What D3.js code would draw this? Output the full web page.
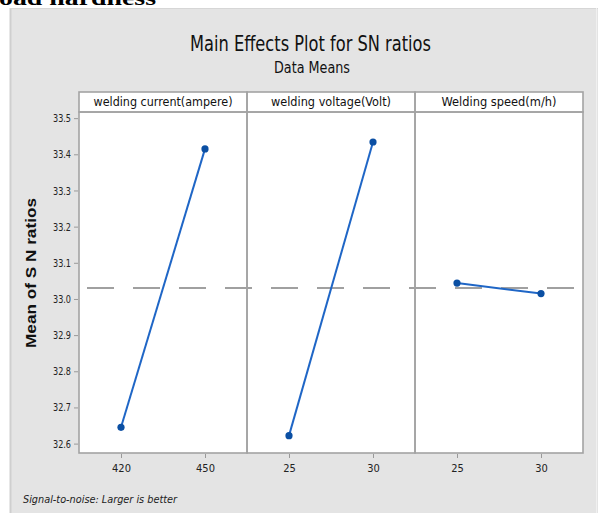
<!DOCTYPE html>
<html><head><meta charset="utf-8">
<script src="https://cdn.jsdelivr.net/npm/d3@7"></script>
<style>
html,body{margin:0;padding:0;background:#fff;}
svg{display:block;}
</style></head>
<body>
<svg id="chart" width="598" height="513"></svg>
<script>
// ---- data ----
const factors = ["welding current(ampere)", "welding voltage(Volt)", "Welding speed(m/h)"];
const levels = [["420", "450"], ["25", "30"], ["25", "30"]];
const means = [[32.645, 33.415], [32.622, 33.434], [33.044, 33.015]];
const yTicks = [32.6, 32.7, 32.8, 32.9, 33.0, 33.1, 33.2, 33.3, 33.4, 33.5];
const overallMean = 33.03;
const titleText = "Main Effects Plot for SN ratios";
const subtitleText = "Data Means";
const yLabel = "Mean of S N ratios";
const footText = "Signal-to-noise: Larger is better";

// ---- layout ----
const W = 598, H = 513;
const plotL = 79, plotR = 583, plotT = 112, plotB = 453, stripT = 92;
const narrow = "'Liberation Sans Narrow','Arial Narrow','DejaVu Sans Condensed',sans-serif";
const frame = "#a3a3a3";

const svg = d3.select("#chart");

// cut-off document text at top
svg.append("text").attr("x", -1).attr("y", 5)
  .attr("font-family", "'Liberation Serif','Times New Roman',serif")
  .attr("font-weight", "bold").attr("font-size", 22)
  .attr("textLength", 157).attr("lengthAdjust", "spacingAndGlyphs")
  .attr("fill", "#000").text("oad hardness");

// gray background panel
svg.append("rect").attr("x", 10).attr("y", 8).attr("width", W - 10).attr("height", H - 8)
  .attr("fill", "#e4e4e4");
svg.append("line").attr("x1", 10.5).attr("x2", 10.5).attr("y1", 8).attr("y2", H)
  .attr("stroke", "#cfcfcf").attr("stroke-width", 2);
svg.append("line").attr("x1", 10).attr("x2", W).attr("y1", 8.5).attr("y2", 8.5)
  .attr("stroke", "#d6d6d6").attr("stroke-width", 1);
svg.append("line").attr("x1", 596.5).attr("x2", 596.5).attr("y1", 8).attr("y2", H)
  .attr("stroke", "#f0f0f0").attr("stroke-width", 1);

// titles
svg.append("text").attr("x", 310.5).attr("y", 51).attr("text-anchor", "middle")
  .attr("font-family", narrow).attr("font-size", 21)
  .attr("textLength", 241).attr("lengthAdjust", "spacingAndGlyphs")
  .attr("fill", "#111").text(titleText);
svg.append("text").attr("x", 312).attr("y", 73).attr("text-anchor", "middle")
  .attr("font-family", narrow).attr("font-size", 15)
  .attr("textLength", 76).attr("lengthAdjust", "spacingAndGlyphs")
  .attr("fill", "#111").text(subtitleText);

// scales
const y = d3.scaleLinear().domain([32.574, 33.517]).range([plotB, plotT]);
const panel = d3.scaleBand().domain(factors).range([plotL, plotR]).padding(0);
const bw = panel.bandwidth();

// white plot area
svg.append("rect").attr("x", plotL).attr("y", stripT).attr("width", plotR - plotL)
  .attr("height", plotB - stripT).attr("fill", "#fff");

// reference line
svg.append("line").attr("x1", plotL).attr("x2", plotR)
  .attr("y1", y(overallMean)).attr("y2", y(overallMean))
  .attr("stroke", "#a0a0a0").attr("stroke-width", 2).attr("stroke-dasharray", "27,19")
  .attr("stroke-dashoffset", -8);

// y axis
const yAxis = svg.append("g").attr("transform", `translate(${plotL - 1},0)`)
  .call(d3.axisLeft(y).tickValues(yTicks).tickFormat(d3.format(".1f")).tickSize(4).tickPadding(3));
yAxis.select(".domain").remove();
yAxis.selectAll("line").attr("stroke", "#999");
yAxis.selectAll("text").attr("font-family", narrow).attr("font-size", 11).attr("fill", "#222")
  .attr("textLength", 18).attr("lengthAdjust", "spacingAndGlyphs");

// y label
svg.append("text").attr("transform", "translate(36,273) rotate(-90)")
  .attr("text-anchor", "middle").attr("font-family", "'Liberation Sans',Arial,sans-serif")
  .attr("font-weight", "bold").attr("font-size", 15)
  .attr("textLength", 150).attr("lengthAdjust", "spacingAndGlyphs")
  .attr("fill", "#111").text(yLabel);

const stripWidths = [139, 120, 115];

factors.forEach((f, i) => {
  const x0 = panel(f);
  const x = d3.scalePoint().domain(levels[i]).range([0, bw]).padding(0.5);
  const g = svg.append("g").attr("transform", `translate(${x0},0)`);

  // strip label
  g.append("text").attr("x", bw / 2).attr("y", 106).attr("text-anchor", "middle")
    .attr("font-family", narrow).attr("font-size", 12)
    .attr("textLength", stripWidths[i]).attr("lengthAdjust", "spacingAndGlyphs")
    .attr("fill", "#111").text(f);

  // x axis
  const xa = g.append("g").attr("transform", `translate(0,${plotB + 1})`)
    .call(d3.axisBottom(x).tickSize(4).tickPadding(6));
  xa.select(".domain").remove();
  xa.selectAll("line").attr("stroke", "#999");
  xa.selectAll("text").attr("font-family", narrow).attr("font-size", 11).attr("fill", "#222");

  // line + points
  const pts = levels[i].map((l, j) => [x(l), y(means[i][j])]);
  g.append("path").attr("d", d3.line()(pts)).attr("fill", "none")
    .attr("stroke", "#1f66c6").attr("stroke-width", 2);
  g.selectAll("circle.pt").data(pts).enter().append("circle")
    .attr("cx", d => d[0]).attr("cy", d => d[1]).attr("r", 3.6)
    .attr("fill", "#0b4fa3");

  // frames
  g.append("rect").attr("x", 0).attr("y", stripT).attr("width", bw).attr("height", plotT - stripT)
    .attr("fill", "none").attr("stroke", frame).attr("stroke-width", 1.6);
  g.append("rect").attr("x", 0).attr("y", plotT).attr("width", bw).attr("height", plotB - plotT)
    .attr("fill", "none").attr("stroke", frame).attr("stroke-width", 1.6);
});

// footnote
svg.append("text").attr("x", 23).attr("y", 503)
  .attr("font-family", narrow).attr("font-style", "italic").attr("font-size", 11)
  .attr("textLength", 154).attr("lengthAdjust", "spacingAndGlyphs")
  .attr("fill", "#222").text(footText);
</script>
</body></html>
